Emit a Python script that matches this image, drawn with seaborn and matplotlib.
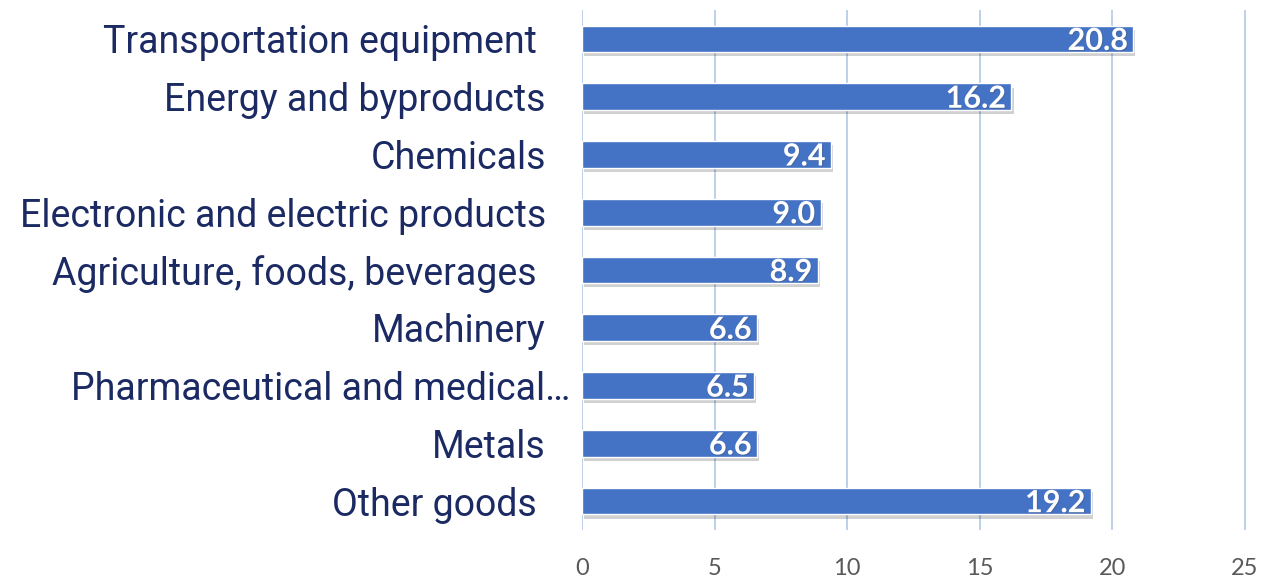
import matplotlib
matplotlib.use("Agg")
import matplotlib.pyplot as plt
import matplotlib.patheffects as pe
from matplotlib.transforms import ScaledTranslation
import seaborn as sns
import pandas as pd

categories = [
    "Transportation equipment ",
    "Energy and byproducts",
    "Chemicals",
    "Electronic and electric products",
    "Agriculture, foods, beverages ",
    "Machinery",
    "Pharmaceutical and medical…",
    "Metals",
    "Other goods ",
]
values = [20.8, 16.2, 9.4, 9.0, 8.9, 6.6, 6.5, 6.6, 19.2]
value_labels = ["20.8", "16.2", "9.4", "9.0", "8.9", "6.6", "6.5", "6.6", "19.2"]
xticks = [0, 5, 10, 15, 20, 25]

df = pd.DataFrame({"category": categories, "value": values})

sns.set_theme(style="white")
plt.rcParams["font.family"] = ["Roboto", "DejaVu Sans"]

fig = plt.figure(figsize=(12.66, 5.77), dpi=100)
ax = fig.add_axes([582 / 1266, 1 - 530 / 577, (1250 - 582) / 1266, (530 - 10) / 577])

sns.barplot(data=df, x="value", y="category", orient="h", color="#4472C4",
            saturation=1, width=0.46, ax=ax, zorder=3)

for p in ax.patches:
    p.set_path_effects([pe.SimplePatchShadow(offset=(1.5, -3), shadow_rgbFace="#000000", alpha=0.18),
                        pe.Normal()])

ax.set_xlim(0, 25.2)
ax.set_ylim(8.5, -0.5)
ax.set_xticks(xticks)
ax.set_xticklabels([str(t) for t in xticks], fontsize=17, color="#595959", family="Lato")
ax.tick_params(axis="x", length=0, pad=20)
ax.tick_params(axis="y", length=0, pad=26)
for i, lbl in enumerate(ax.get_yticklabels()):
    lbl.set_fontsize(27)
    lbl.set_color("#1b2a63")
    lbl.set_family(["Roboto", "DejaVu Sans"])
    if categories[i].endswith("…"):
        lbl.set_transform(lbl.get_transform() + ScaledTranslation(0.24, 0, fig.dpi_scale_trans))

ax.set_xlabel("")
ax.set_ylabel("")
ax.grid(axis="x", color="#b0c8e4", linewidth=1.2, zorder=0)
ax.grid(axis="y", visible=False)
for s in ax.spines.values():
    s.set_visible(False)

for i, (v, t) in enumerate(zip(values, value_labels)):
    ax.annotate(t, xy=(v, i), xytext=(-4, -1.5), textcoords="offset points",
                ha="right", va="center", color="white", fontsize=22,
                fontweight="bold", family="Lato", zorder=5,
                path_effects=[pe.withSimplePatchShadow(offset=(0.8, -0.8), alpha=0.25)])

fig.savefig("out.png", dpi=100, facecolor="white")
